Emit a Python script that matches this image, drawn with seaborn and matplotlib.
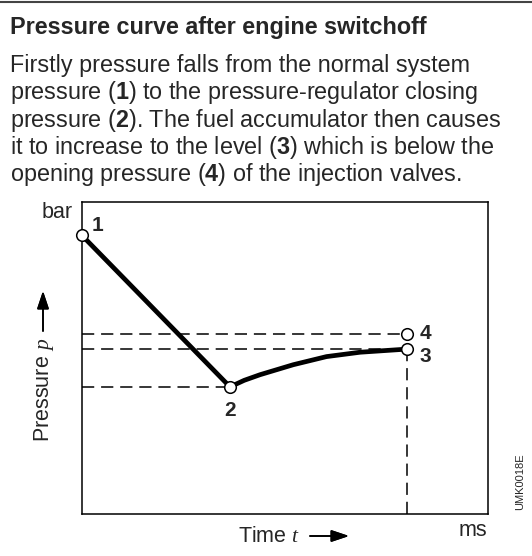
import pandas as pd
import seaborn as sns
import matplotlib.pyplot as plt
from matplotlib.lines import Line2D

time_pts = [0, 36.5, 40.0, 43.9, 52.1, 60.3, 68.6, 80.1]
pressure_pts = [89.2, 40.7, 42.8, 44.6, 47.8, 50.4, 51.8, 52.8]

point_labels = ["1", "2", "3", "4"]
point_time = [0, 36.5, 80.1, 80.1]
point_pressure = [89.2, 40.7, 52.8, 57.5]
# label offsets in points (dx, dy) and alignment
label_offsets = [(7, 7), (0, -17), (9, -5), (9, 1)]
label_ha = ["left", "center", "left", "left"]

title = "Pressure curve after engine switchoff"
body_lines = [
    "Firstly pressure falls from the normal system",
    r"pressure ($\mathbf{1}$) to the pressure-regulator closing",
    r"pressure ($\mathbf{2}$). The fuel accumulator then causes",
    r"it to increase to the level ($\mathbf{3}$) which is below the",
    r"opening pressure ($\mathbf{4}$) of the injection valves.",
]

sns.set_theme(style="white")
plt.rcParams['font.family'] = ['Liberation Sans', 'DejaVu Sans']
plt.rcParams['mathtext.fontset'] = 'custom'
plt.rcParams['mathtext.rm'] = 'Liberation Sans'
plt.rcParams['mathtext.bf'] = 'Liberation Sans:bold'
plt.rcParams['mathtext.it'] = 'Liberation Serif:italic'

W, H = 532, 556
fig = plt.figure(figsize=(W / 100, H / 100), dpi=100)
ax = fig.add_axes([82 / W, 1 - 514 / H, (487.5 - 82) / W, (514 - 201.7) / H])

curve = pd.DataFrame({"t": time_pts, "p": pressure_pts})
pts = pd.DataFrame({"t": point_time, "p": point_pressure, "lab": point_labels})

# dashed guide lines
dash = dict(color="black", lw=1.1, dashes=(8, 4.5))
for lab in ["2", "3", "4"]:
    row = pts[pts.lab == lab].iloc[0]
    ax.plot([0, row.t], [row.p, row.p], **dash, zorder=1)
row3 = pts[pts.lab == "3"].iloc[0]
ax.plot([row3.t, row3.t], [row3.p, 0], **dash, zorder=1)

sns.lineplot(data=curve, x="t", y="p", sort=False, estimator=None,
             color="black", lw=3.4, ax=ax, zorder=2)
sns.scatterplot(data=pts, x="t", y="p", s=70, color="white",
                edgecolor="black", linewidth=1.1, ax=ax, zorder=3, clip_on=False)

for i, r in pts.iterrows():
    ax.annotate(r.lab, (r.t, r.p), xytext=label_offsets[i], textcoords="offset points",
                ha=label_ha[i], va="center", fontsize=15, fontweight="bold")

ax.set_xlim(0, 100)
ax.set_ylim(0, 100)
ax.set_xticks([])
ax.set_yticks([])
ax.set_xlabel("")
ax.set_ylabel("")
for s in ax.spines.values():
    s.set_color("black")
    s.set_linewidth(1.1)

# texts around the plot
fig.text(10 / W, 1 - 34 / H, title, fontsize=16.8, fontweight="bold", va="baseline")
for i, line in enumerate(body_lines):
    fig.text(10 / W, 1 - (72 + 27.3 * i) / H, line, fontsize=16.8, va="baseline")

fig.text(73 / W, 1 - 212 / H, "bar", fontsize=15.5, ha="right", va="center")
fig.text(487 / W, 1 - 531 / H, "ms", fontsize=15.5, ha="right", va="center")
fig.text(44 / W, 1 - 390 / H, r"Pressure $\mathit{p}$", fontsize=15.5, rotation=90,
         ha="center", va="center")
fig.text(238 / W, 1 - 536 / H, r"Time $\mathit{t}$", fontsize=15.5, ha="left", va="center")
fig.text(520 / W, 1 - 482 / H, "UMK0018E", fontsize=8, rotation=90,
         ha="center", va="center")

arrow = dict(arrowstyle="-|>,head_length=0.9,head_width=0.3", color="black", lw=1.2,
             shrinkA=0, shrinkB=0)
fig.add_artist(plt.annotate("", xy=(349 / W, 1 - 536 / H), xytext=(310 / W, 1 - 536 / H),
                            xycoords="figure fraction", arrowprops=arrow))
fig.add_artist(plt.annotate("", xy=(43 / W, 1 - 291 / H), xytext=(43 / W, 1 - 331 / H),
                            xycoords="figure fraction", arrowprops=arrow))

# rule at the very top
fig.add_artist(Line2D([0, 1], [1 - 1.5 / H, 1 - 1.5 / H], transform=fig.transFigure,
                      color="#444444", lw=1.5))

fig.savefig("out.png", dpi=100)
